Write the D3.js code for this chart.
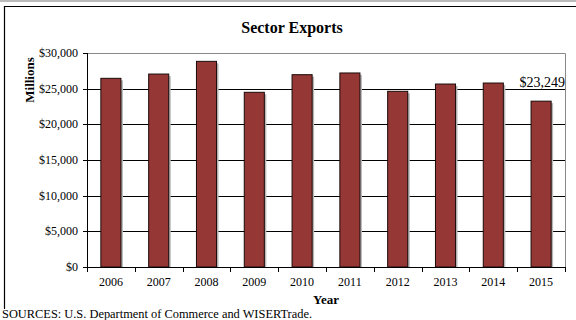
<!DOCTYPE html>
<html>
<head>
<meta charset="utf-8">
<script src="https://cdn.jsdelivr.net/npm/d3@7"></script>
<style>
  body { margin: 0; background: #fff; }
  text { font-family: "Liberation Serif", "Times New Roman", serif; fill: #000; }
</style>
</head>
<body>
<script>
var w = 576;
var h = 320;

var years = ["2006", "2007", "2008", "2009", "2010", "2011", "2012", "2013", "2014", "2015"];
var exportsM = [26450, 27050, 28830, 24490, 26960, 27200, 24630, 25650, 25790, 23249];
var yTicks = [0, 5000, 10000, 15000, 20000, 25000, 30000];

var plotLeft = 87, plotRight = 565, plotTop = 53, plotBottom = 267;

var svg = d3.select("body")
    .append("svg")
    .attr("width", w)
    .attr("height", h);

// page rule and chart frame
svg.append("rect").attr("x", 0).attr("y", 0).attr("width", w).attr("height", 2).attr("fill", "#bbb");
svg.append("path")
    .attr("d", "M4.5,309 V6.5 H576")
    .attr("fill", "none")
    .attr("stroke", "#000")
    .attr("stroke-width", 1.2);

var x = d3.scaleBand()
    .domain(years)
    .range([plotLeft, plotRight])
    .paddingInner(0.58)
    .paddingOuter(0.29);

var y = d3.scaleLinear()
    .domain([0, 30000])
    .range([plotBottom, plotTop]);

// gridlines
svg.selectAll("line.grid")
    .data(yTicks)
    .enter()
    .append("line")
    .attr("class", "grid")
    .attr("x1", plotLeft - 4)
    .attr("x2", plotRight)
    .attr("y1", function(d){ return Math.round(y(d)) + 0.5; })
    .attr("y2", function(d){ return Math.round(y(d)) + 0.5; })
    .attr("stroke", "#000")
    .attr("stroke-width", 1);

// plot area border (gray top/right)
svg.append("path")
    .attr("d", "M" + plotLeft + "," + (plotTop + 0.5) + " H" + (plotRight + 0.5) + " V" + plotBottom)
    .attr("fill", "none")
    .attr("stroke", "#888")
    .attr("stroke-width", 1);

// y tick labels
svg.selectAll("text.ylab")
    .data(yTicks)
    .enter()
    .append("text")
    .attr("class", "ylab")
    .attr("x", plotLeft - 9)
    .attr("y", function(d){ return y(d) + 4; })
    .attr("text-anchor", "end")
    .style("font-size", "12px")
    .text(function(d){ return "$" + d3.format(",")(d); });

// bar shadows
svg.selectAll("rect.shadow")
    .data(exportsM)
    .enter()
    .append("rect")
    .attr("class", "shadow")
    .attr("x", function(d, i){ return x(years[i]) + 2; })
    .attr("y", function(d){ return y(d) + 2; })
    .attr("width", x.bandwidth())
    .attr("height", function(d){ return plotBottom - y(d) - 2; })
    .attr("fill", "#b8b8b8");

// bars
svg.selectAll("rect.bar")
    .data(exportsM)
    .enter()
    .append("rect")
    .attr("class", "bar")
    .attr("x", function(d, i){ return x(years[i]); })
    .attr("y", function(d){ return y(d); })
    .attr("width", x.bandwidth())
    .attr("height", function(d){ return plotBottom - y(d); })
    .attr("fill", "#953735")
    .attr("stroke", "#1a0a0a")
    .attr("stroke-width", 1);

// axis lines
svg.append("line")
    .attr("x1", plotLeft + 0.5).attr("x2", plotLeft + 0.5)
    .attr("y1", plotTop).attr("y2", plotBottom + 4)
    .attr("stroke", "#000");
svg.append("line")
    .attr("x1", plotLeft).attr("x2", plotRight + 1)
    .attr("y1", plotBottom + 0.5).attr("y2", plotBottom + 0.5)
    .attr("stroke", "#000");

// x ticks at category boundaries
var step = x.step();
var bounds = years.map(function(d){ return x(d) - x.paddingOuter() * step; });
bounds.push(plotRight);
svg.selectAll("line.xtick")
    .data(bounds)
    .enter()
    .append("line")
    .attr("class", "xtick")
    .attr("x1", function(d){ return Math.round(d) + 0.5; })
    .attr("x2", function(d){ return Math.round(d) + 0.5; })
    .attr("y1", plotBottom)
    .attr("y2", plotBottom + 5)
    .attr("stroke", "#000");

// x labels
svg.selectAll("text.xlab")
    .data(years)
    .enter()
    .append("text")
    .attr("class", "xlab")
    .attr("x", function(d){ return x(d) + x.bandwidth() / 2; })
    .attr("y", plotBottom + 19)
    .attr("text-anchor", "middle")
    .style("font-size", "12px")
    .text(function(d){ return d; });

// last value label
var last = exportsM[exportsM.length - 1];
svg.append("text")
    .attr("x", plotRight)
    .attr("y", 87)
    .attr("text-anchor", "end")
    .style("font-size", "14px")
    .text("$" + d3.format(",")(last));

// titles
svg.append("text")
    .attr("x", 292)
    .attr("y", 33)
    .attr("text-anchor", "middle")
    .style("font-size", "16px")
    .style("font-weight", "bold")
    .text("Sector Exports");

svg.append("text")
    .attr("transform", "translate(34,80) rotate(-90)")
    .attr("text-anchor", "middle")
    .style("font-size", "13px")
    .style("font-weight", "bold")
    .text("Millions");

svg.append("text")
    .attr("x", (plotLeft + plotRight) / 2)
    .attr("y", 304)
    .attr("text-anchor", "middle")
    .style("font-size", "13px")
    .style("font-weight", "bold")
    .text("Year");

svg.append("text")
    .attr("x", 2)
    .attr("y", 318)
    .style("font-size", "12.4px")
    .text("SOURCES: U.S. Department of Commerce and WISERTrade.");
</script>
</body>
</html>
